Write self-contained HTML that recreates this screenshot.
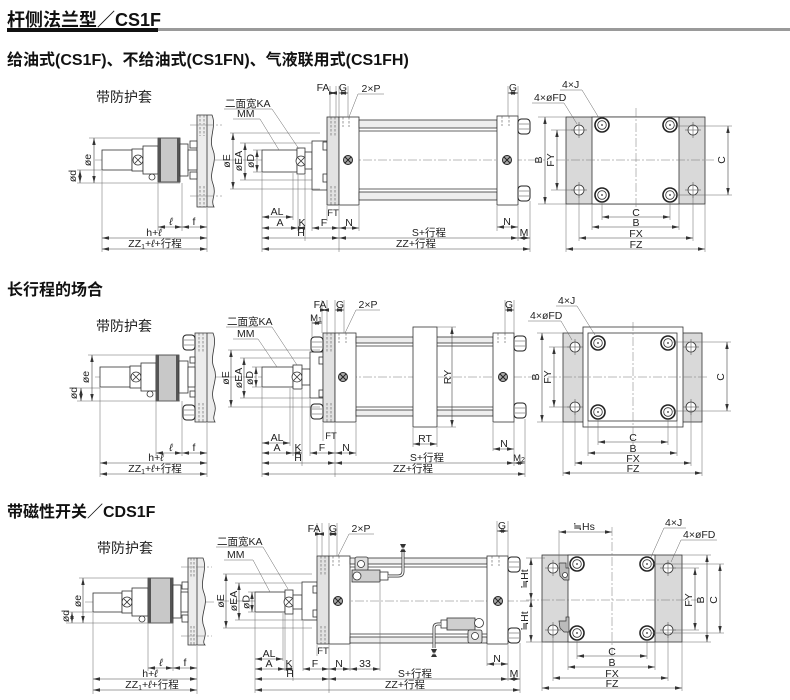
<!DOCTYPE html>
<html><head><meta charset="utf-8">
<style>
html,body{margin:0;padding:0;background:#fff}
svg{display:block}
.s{fill:#fff;stroke:#333;stroke-width:.8}
.g{fill:#d9d9d9;stroke:#333;stroke-width:.8}
.f{fill:#e2e2e2;stroke:#333;stroke-width:.8}
.l{fill:none;stroke:#333;stroke-width:.8}
.e{fill:none;stroke:#666;stroke-width:.5}
.dm{fill:none;stroke:#444;stroke-width:.6;marker-start:url(#ar);marker-end:url(#ar)}
.c{fill:none;stroke:#777;stroke-width:.5;stroke-dasharray:9 2 2 2}
.h{fill:none;stroke:#555;stroke-width:.6;stroke-dasharray:2.5 1.5}
text{font-family:"Liberation Sans","Noto Sans CJK SC",sans-serif;font-size:10.5px;fill:#222}
.m{text-anchor:middle}
.hd{font-size:16px;font-weight:bold;fill:#111}
.sb{font-size:14px;fill:#222}
.sm{font-size:9.5px}
</style></head><body>
<svg width="790" height="700" viewBox="0 0 790 700" xmlns="http://www.w3.org/2000/svg">
<defs>
<marker id="ar" viewBox="0 0 7 4" refX="7" refY="2" markerWidth="7" markerHeight="4" markerUnits="userSpaceOnUse" orient="auto-start-reverse"><path d="M0,0.3L7,2L0,3.7z" fill="#333"/></marker>
<g id="bj"><circle r="7" fill="#fff" stroke="#222" stroke-width="1.6"/><circle r="4.3" fill="none" stroke="#333" stroke-width=".8"/><circle r=".9" fill="#333"/></g>
<g id="fd"><circle r="5" fill="#fff" stroke="#333" stroke-width=".8"/><path d="M-8,0H8M0,-8V8" stroke="#444" stroke-width=".5"/></g>
<g id="pt"><circle r="4.5" fill="#aaa" stroke="#222" stroke-width="1"/><path d="M-3,-3L3,3M3,-3L-3,3" stroke="#222" stroke-width="1"/></g>
<g id="kx"><circle r="5" fill="#fff" stroke="#333" stroke-width=".8"/><path d="M-3,-3L3,3M3,-3L-3,3" stroke="#333" stroke-width=".8"/></g>
<g id="nut"><rect x="0" y="0" width="12" height="15" rx="3.5" fill="#fff" stroke="#222" stroke-width="1"/><path d="M1,5H11M1,10H11" stroke="#444" stroke-width=".5"/></g>
</defs>

<!-- HEADER -->
<text x="7" y="26" style="font-size:18px;font-weight:bold;fill:#111">杆侧法兰型／CS1F</text>
<rect x="7" y="28" width="151" height="4" fill="#111"/>
<rect x="158" y="28" width="632" height="3" fill="#9a9a9a"/>
<text x="7" y="65" class="hd">给油式(CS1F)、不给油式(CS1FN)、气液联用式(CS1FH)</text>

<!-- ================= DRAWING 1 ================= -->
<text x="96" y="102" class="sb">带防护套</text>
<!-- boot -->
<line class="c" x1="95" y1="160" x2="225" y2="160"/>
<path d="M197,115H212C217,127 208,138 213,150C218,162 208,172 213,184C217,195 210,200 214,207H197Z" fill="#ececec" stroke="#333" stroke-width=".8"/>
<line class="l" x1="207" y1="115" x2="207" y2="207"/>
<path class="h" d="M200,115V136M204,115V136M200,186V207M204,186V207"/>
<path class="c" d="M190,125H222M190,196H222"/>
<rect class="s" x="102" y="150" width="30" height="20"/>
<rect class="s" x="132" y="149" width="11" height="22"/>
<use href="#kx" x="138" y="160"/>
<rect class="s" x="143" y="146" width="15" height="28"/>
<circle class="s" cx="152" cy="177" r="3"/>
<rect x="158" y="138" width="22" height="44" fill="#c8c8c8" stroke="#333" stroke-width=".8"/>
<rect x="158" y="138" width="3" height="44" fill="#555"/>
<rect x="177" y="138" width="3" height="44" fill="#555"/>
<rect class="s" x="180" y="144" width="8" height="32"/>
<rect class="s" x="188" y="150" width="9" height="20"/>
<rect class="s" x="190" y="141" width="7" height="7"/>
<rect class="s" x="190" y="172" width="7" height="7"/>
<path class="e" d="M89,138H158M77,183H180M77,170H102M102,171V252M158,183V231M182,183V231M207,208V252"/>
<line class="dm" x1="94" y1="138" x2="94" y2="183"/>
<line class="dm" x1="80" y1="170" x2="80" y2="183"/>
<text class="m" transform="translate(91,160) rotate(-90)">øe</text>
<text class="m" transform="translate(76,176) rotate(-90)">ød</text>
<line class="dm" x1="158" y1="227" x2="182" y2="227"/>
<line class="dm" x1="182" y1="227" x2="207" y2="227"/>
<line class="dm" x1="102" y1="238" x2="207" y2="238"/>
<line class="dm" x1="102" y1="249" x2="207" y2="249"/>
<text x="171" y="225" class="m" style="font-style:italic">ℓ</text>
<text x="194" y="225" class="m">f</text>
<text x="154" y="236" class="m">h+<tspan style="font-style:italic">ℓ</tspan></text>
<text x="155" y="247" class="m">ZZ<tspan font-size="7" dy="2">1</tspan><tspan dy="-2">+</tspan><tspan style="font-style:italic">ℓ</tspan>+行程</text>

<!-- main 1 -->
<line class="c" x1="228" y1="160" x2="545" y2="160"/>
<rect class="s" x="262" y="150" width="35" height="22"/>
<rect class="s" x="297" y="148" width="8" height="26"/>
<use href="#kx" x="301" y="161"/>
<rect class="s" x="305" y="152" width="7" height="17"/>
<rect class="s" x="312" y="141" width="15" height="49"/>
<rect class="s" x="323" y="142" width="4" height="8"/>
<rect class="s" x="323" y="174" width="4" height="8"/>
<rect class="f" x="327" y="117" width="12" height="88"/>
<path class="h" d="M331,117V136M335,117V136M331,186V205M335,186V205"/>
<rect class="s" x="339" y="117" width="20" height="88"/>
<path class="h" d="M343,117V127M349,117V127"/>
<use href="#pt" x="348" y="160"/>
<rect x="359" y="120" width="138" height="8" fill="#eee" stroke="#333" stroke-width=".8"/>
<line class="l" x1="359" y1="131" x2="497" y2="131"/>
<line class="l" x1="359" y1="189" x2="497" y2="189"/>
<rect x="359" y="192" width="138" height="8" fill="#eee" stroke="#333" stroke-width=".8"/>
<rect class="s" x="497" y="116" width="21" height="89"/>
<path class="h" d="M502,116V126M509,116V126"/>
<use href="#pt" x="507" y="160"/>
<use href="#nut" x="518" y="119"/>
<use href="#nut" x="518" y="186"/>
<!-- left dims 1 -->
<path class="e" d="M230,133H320M230,189H320M240,143H312M240,180H312M253,150H262M253,172H262"/>
<line class="dm" x1="233" y1="133" x2="233" y2="189"/>
<line class="dm" x1="245" y1="143" x2="245" y2="180"/>
<line class="dm" x1="257" y1="150" x2="257" y2="172"/>
<text class="m" transform="translate(230,161) rotate(-90)">øE</text>
<text class="m" transform="translate(242,161) rotate(-90)">øEA</text>
<text class="m" transform="translate(254,161) rotate(-90)">øD</text>
<text x="225" y="107">二面宽KA</text>
<path class="e" d="M224,109H272L299,149"/>
<text x="237" y="117">MM</text>
<path class="e" d="M233,119H260L279,150"/>
<!-- top dims 1 -->
<path class="e" d="M330,86V117M336,86V117M339,86V117M348,86V117M508,86V116M518,86V116"/>
<line class="dm" x1="330" y1="93" x2="336" y2="93"/>
<line class="dm" x1="339" y1="93" x2="348" y2="93"/>
<line class="dm" x1="508" y1="93" x2="518" y2="93"/>
<text x="323" y="91" class="m">FA</text>
<text x="343" y="91" class="m">G</text>
<text x="371" y="92" class="m">2×P</text>
<path class="e" d="M384,94H358L349,117"/>
<text x="513" y="91" class="m">G</text>
<!-- bottom dims 1 -->
<path class="e" d="M262,173V252M293,173V220M298,175V231M305,175V241M312,191V231M327,206V221M339,206V252M359,206V231M497,206V231M518,206V241M530,201V252"/>
<line class="dm" x1="262" y1="217" x2="293" y2="217"/>
<line class="dm" x1="262" y1="228" x2="298" y2="228"/>
<line class="dm" x1="298" y1="228" x2="305" y2="228"/>
<line class="dm" x1="312" y1="228" x2="339" y2="228"/>
<line class="dm" x1="339" y1="228" x2="359" y2="228"/>
<line class="dm" x1="497" y1="227" x2="518" y2="227"/>
<line class="dm" x1="262" y1="238" x2="339" y2="238"/>
<line class="dm" x1="339" y1="238" x2="518" y2="238"/>
<line class="dm" x1="518" y1="238" x2="530" y2="238"/>
<line class="dm" x1="262" y1="249" x2="530" y2="249"/>
<text x="277" y="215" class="m">AL</text>
<text x="280" y="226" class="m">A</text>
<text x="302" y="226" class="m">K</text>
<text x="324" y="226" class="m">F</text>
<text x="333" y="216" class="m sm">FT</text>
<text x="349" y="226" class="m">N</text>
<text x="507" y="225" class="m">N</text>
<text x="301" y="236" class="m">H</text>
<text x="429" y="236" class="m">S+行程</text>
<text x="524" y="236" class="m">M</text>
<text x="416" y="247" class="m">ZZ+行程</text>
<!-- end view 1 -->
<rect class="g" x="566" y="117" width="139" height="87"/>
<rect class="s" x="592" y="117" width="87" height="87"/>
<path class="c" d="M636,108V212M556,160H714"/>
<use href="#fd" x="579" y="130"/><use href="#fd" x="579" y="190"/>
<use href="#fd" x="693" y="130"/><use href="#fd" x="693" y="190"/>
<use href="#bj" x="602" y="125"/><use href="#bj" x="602" y="195"/>
<use href="#bj" x="670" y="125"/><use href="#bj" x="670" y="195"/>
<path class="e" d="M538,117H566M538,204H566M551,130H574M551,190H574M675,126H732M675,195H732M602,202V220M670,202V220M592,204V230M679,204V230M579,195V241M693,195V241M566,204V252M705,204V252"/>
<line class="dm" x1="545" y1="117" x2="545" y2="204"/>
<line class="dm" x1="557" y1="130" x2="557" y2="190"/>
<line class="dm" x1="728" y1="126" x2="728" y2="195"/>
<line class="dm" x1="602" y1="217" x2="670" y2="217"/>
<line class="dm" x1="592" y1="227" x2="679" y2="227"/>
<line class="dm" x1="579" y1="238" x2="693" y2="238"/>
<line class="dm" x1="566" y1="249" x2="705" y2="249"/>
<text class="m" transform="translate(542,160) rotate(-90)">B</text>
<text class="m" transform="translate(554,160) rotate(-90)">FY</text>
<text class="m" transform="translate(725,160) rotate(-90)">C</text>
<text x="636" y="216" class="m">C</text>
<text x="636" y="226" class="m">B</text>
<text x="636" y="237" class="m">FX</text>
<text x="636" y="248" class="m">FZ</text>
<text x="562" y="88">4×J</text>
<path class="e" d="M560,90H582L599,118"/>
<text x="534" y="101">4×øFD</text>
<path class="e" d="M532,103H564L577,124"/>

<!-- ================= DRAWING 2 ================= -->
<text x="7" y="295" class="hd">长行程的场合</text>
<text x="96" y="331" class="sb">带防护套</text>
<line class="c" x1="95" y1="377" x2="225" y2="377"/>
<path d="M195,333H213C218,345 209,356 214,368C219,380 209,390 214,402C218,412 211,416 215,422H195Z" fill="#ececec" stroke="#333" stroke-width=".8"/>
<line class="l" x1="207" y1="333" x2="207" y2="422"/>
<path class="h" d="M199,333V352M203,333V352M199,403V422M203,403V422"/>
<use href="#nut" x="183" y="335"/>
<use href="#nut" x="183" y="405"/>
<rect class="s" x="100" y="367" width="30" height="20"/>
<rect class="s" x="130" y="366" width="11" height="22"/>
<use href="#kx" x="136" y="377"/>
<rect class="s" x="141" y="363" width="15" height="28"/>
<circle class="s" cx="150" cy="394" r="3"/>
<rect x="156" y="355" width="23" height="46" fill="#c8c8c8" stroke="#333" stroke-width=".8"/>
<rect x="156" y="355" width="3" height="46" fill="#555"/>
<rect x="176" y="355" width="3" height="46" fill="#555"/>
<rect class="s" x="179" y="361" width="9" height="32"/>
<rect class="s" x="188" y="367" width="7" height="20"/>
<rect class="s" x="190" y="357" width="5" height="6"/>
<rect class="s" x="190" y="391" width="5" height="6"/>
<path class="e" d="M88,355H156M77,401H180M77,388H100M100,388V477M156,401V456M182,401V456M207,423V477"/>
<line class="dm" x1="92" y1="355" x2="92" y2="401"/>
<line class="dm" x1="81" y1="388" x2="81" y2="401"/>
<text class="m" transform="translate(89,377) rotate(-90)">øe</text>
<text class="m" transform="translate(77,393) rotate(-90)">ød</text>
<line class="dm" x1="156" y1="453" x2="182" y2="453"/>
<line class="dm" x1="182" y1="453" x2="207" y2="453"/>
<line class="dm" x1="100" y1="463" x2="207" y2="463"/>
<line class="dm" x1="100" y1="474" x2="207" y2="474"/>
<text x="171" y="451" class="m" style="font-style:italic">ℓ</text>
<text x="194" y="451" class="m">f</text>
<text x="156" y="461" class="m">h+<tspan style="font-style:italic">ℓ</tspan></text>
<text x="155" y="472" class="m">ZZ<tspan font-size="7" dy="2">1</tspan><tspan dy="-2">+</tspan><tspan style="font-style:italic">ℓ</tspan>+行程</text>

<!-- main 2 -->
<line class="c" x1="228" y1="377" x2="540" y2="377"/>
<rect class="s" x="262" y="367" width="31" height="20"/>
<rect class="s" x="293" y="365" width="9" height="24"/>
<use href="#kx" x="297" y="377"/>
<rect class="s" x="302" y="369" width="8" height="16"/>
<rect class="s" x="310" y="352" width="13" height="46"/>
<rect class="s" x="319" y="357" width="4" height="7"/>
<rect class="s" x="319" y="390" width="4" height="7"/>
<rect class="f" x="323" y="333" width="12" height="89"/>
<path class="h" d="M327,333V352M331,333V352M327,403V422M331,403V422"/>
<use href="#nut" x="311" y="337"/>
<use href="#nut" x="311" y="404"/>
<rect class="s" x="335" y="333" width="21" height="89"/>
<path class="h" d="M339,333V343M346,333V343"/>
<use href="#pt" x="343" y="377"/>
<rect x="356" y="337" width="137" height="6" fill="#eee" stroke="#333" stroke-width=".8"/>
<line class="l" x1="356" y1="346" x2="493" y2="346"/>
<line class="l" x1="356" y1="407" x2="493" y2="407"/>
<rect x="356" y="410" width="137" height="6" fill="#eee" stroke="#333" stroke-width=".8"/>
<rect class="s" x="413" y="327" width="24" height="100"/>
<rect class="s" x="493" y="333" width="21" height="89"/>
<path class="h" d="M498,333V343M505,333V343"/>
<use href="#pt" x="503" y="377"/>
<use href="#nut" x="514" y="336"/>
<use href="#nut" x="514" y="403"/>
<!-- left dims 2 -->
<path class="e" d="M228,350H320M228,407H320M240,358H310M240,398H310M252,367H262M252,387H262"/>
<line class="dm" x1="231" y1="350" x2="231" y2="407"/>
<line class="dm" x1="244" y1="358" x2="244" y2="398"/>
<line class="dm" x1="256" y1="367" x2="256" y2="387"/>
<text class="m" transform="translate(229,378) rotate(-90)">øE</text>
<text class="m" transform="translate(242,378) rotate(-90)">øEA</text>
<text class="m" transform="translate(253,378) rotate(-90)">øD</text>
<text x="227" y="325">二面宽KA</text>
<path class="e" d="M226,327H272L297,365"/>
<text x="237" y="337">MM</text>
<path class="e" d="M233,339H258L277,367"/>
<!-- top dims 2 -->
<path class="e" d="M312,315V337M322,300V333M327,300V333M335,300V333M344,300V333M505,300V333M514,300V333"/>
<line class="dm" x1="322" y1="310" x2="327" y2="310"/>
<line class="dm" x1="335" y1="310" x2="344" y2="310"/>
<line class="dm" x1="312" y1="323" x2="322" y2="323"/>
<line class="dm" x1="505" y1="310" x2="514" y2="310"/>
<text x="320" y="308" class="m">FA</text>
<text x="340" y="308" class="m">G</text>
<text x="368" y="308" class="m">2×P</text>
<path class="e" d="M380,310H356L345,333"/>
<text x="316" y="321" class="m sm">M<tspan font-size="7" dy="1">1</tspan></text>
<text x="509" y="308" class="m">G</text>
<!-- RY / RT -->
<path class="e" d="M437,327H456M437,427H456M413,428V447M437,428V447"/>
<line class="dm" x1="452" y1="327" x2="452" y2="427"/>
<text class="m" transform="translate(451,377) rotate(-90)">RY</text>
<line class="dm" x1="413" y1="444" x2="437" y2="444"/>
<text x="425" y="442" class="m">RT</text>
<!-- bottom dims 2 -->
<path class="e" d="M262,388V477M290,388V446M293,390V456M302,390V466M310,399V456M323,423V441M335,423V477M356,423V456M493,423V451M514,419V466M525,419V477"/>
<line class="dm" x1="262" y1="443" x2="290" y2="443"/>
<line class="dm" x1="262" y1="453" x2="293" y2="453"/>
<line class="dm" x1="293" y1="453" x2="302" y2="453"/>
<line class="dm" x1="310" y1="453" x2="335" y2="453"/>
<line class="dm" x1="335" y1="453" x2="356" y2="453"/>
<line class="dm" x1="493" y1="449" x2="514" y2="449"/>
<line class="dm" x1="262" y1="463" x2="335" y2="463"/>
<line class="dm" x1="335" y1="463" x2="514" y2="463"/>
<line class="dm" x1="514" y1="463" x2="525" y2="463"/>
<line class="dm" x1="262" y1="474" x2="525" y2="474"/>
<text x="277" y="441" class="m">AL</text>
<text x="277" y="451" class="m">A</text>
<text x="298" y="451" class="m">K</text>
<text x="322" y="451" class="m">F</text>
<text x="331" y="439" class="m sm">FT</text>
<text x="346" y="451" class="m">N</text>
<text x="504" y="447" class="m">N</text>
<text x="298" y="461" class="m">H</text>
<text x="427" y="461" class="m">S+行程</text>
<text x="519" y="461" class="m sm">M<tspan font-size="7" dy="1">2</tspan></text>
<text x="413" y="472" class="m">ZZ+行程</text>
<!-- end view 2 -->
<rect class="g" x="563" y="333" width="139" height="89"/>
<rect class="s" x="583" y="327" width="100" height="100"/>
<rect class="s" x="588" y="333" width="89" height="88"/>
<path class="c" d="M633,322V445M548,377H708"/>
<use href="#fd" x="575" y="347"/><use href="#fd" x="575" y="407"/>
<use href="#fd" x="691" y="347"/><use href="#fd" x="691" y="407"/>
<use href="#bj" x="598" y="343"/><use href="#bj" x="598" y="412"/>
<use href="#bj" x="668" y="343"/><use href="#bj" x="668" y="412"/>
<path class="e" d="M537,333H563M537,422H563M549,347H570M549,407H570M673,342H731M673,411H731M598,420V445M668,420V445M588,421V456M677,421V456M575,412V466M691,412V466M563,422V476M702,422V476"/>
<line class="dm" x1="542" y1="333" x2="542" y2="422"/>
<line class="dm" x1="554" y1="347" x2="554" y2="407"/>
<line class="dm" x1="727" y1="342" x2="727" y2="411"/>
<line class="dm" x1="598" y1="442" x2="668" y2="442"/>
<line class="dm" x1="588" y1="453" x2="677" y2="453"/>
<line class="dm" x1="575" y1="463" x2="691" y2="463"/>
<line class="dm" x1="563" y1="473" x2="702" y2="473"/>
<text class="m" transform="translate(539,377) rotate(-90)">B</text>
<text class="m" transform="translate(551,377) rotate(-90)">FY</text>
<text class="m" transform="translate(724,377) rotate(-90)">C</text>
<text x="633" y="441" class="m">C</text>
<text x="633" y="452" class="m">B</text>
<text x="633" y="462" class="m">FX</text>
<text x="633" y="472" class="m">FZ</text>
<text x="558" y="304">4×J</text>
<path class="e" d="M556,306H577L595,335"/>
<text x="530" y="319">4×øFD</text>
<path class="e" d="M528,321H561L572,340"/>

<!-- ================= DRAWING 3 ================= -->
<text x="7" y="517" class="hd">带磁性开关／CDS1F</text>
<text x="97" y="553" class="sb">带防护套</text>
<line class="c" x1="85" y1="602" x2="215" y2="602"/>
<path d="M188,558H203C208,570 199,581 204,593C209,605 199,615 204,627C208,637 201,641 205,645H188Z" fill="#ececec" stroke="#333" stroke-width=".8"/>
<line class="l" x1="197" y1="558" x2="197" y2="645"/>
<path class="h" d="M191,558V577M194,558V577M191,626V645M194,626V645"/>
<path class="c" d="M181,567H212M181,636H212"/>
<rect class="s" x="93" y="593" width="29" height="19"/>
<rect class="s" x="122" y="591" width="10" height="22"/>
<use href="#kx" x="127" y="602"/>
<rect class="s" x="132" y="588" width="16" height="28"/>
<circle class="s" cx="142" cy="619" r="3"/>
<rect x="148" y="578" width="25" height="45" fill="#c8c8c8" stroke="#333" stroke-width=".8"/>
<rect x="148" y="578" width="3" height="45" fill="#555"/>
<rect x="170" y="578" width="3" height="45" fill="#555"/>
<rect class="s" x="173" y="585" width="8" height="33"/>
<rect class="s" x="181" y="592" width="7" height="20"/>
<rect class="s" x="182" y="582" width="6" height="7"/>
<rect class="s" x="182" y="615" width="6" height="7"/>
<path class="e" d="M79,578H148M66,623H173M66,612H93M93,613V694M148,623V671M173,623V671M197,646V694"/>
<line class="dm" x1="83" y1="578" x2="83" y2="623"/>
<line class="dm" x1="72" y1="612" x2="72" y2="623"/>
<text class="m" transform="translate(81,601) rotate(-90)">øe</text>
<text class="m" transform="translate(69,616) rotate(-90)">ød</text>
<line class="dm" x1="148" y1="668" x2="173" y2="668"/>
<line class="dm" x1="173" y1="668" x2="197" y2="668"/>
<line class="dm" x1="93" y1="679" x2="197" y2="679"/>
<line class="dm" x1="93" y1="690" x2="197" y2="690"/>
<text x="161" y="666" class="m" style="font-style:italic">ℓ</text>
<text x="185" y="666" class="m">f</text>
<text x="150" y="677" class="m">h+<tspan style="font-style:italic">ℓ</tspan></text>
<text x="152" y="688" class="m">ZZ<tspan font-size="7" dy="2">1</tspan><tspan dy="-2">+</tspan><tspan style="font-style:italic">ℓ</tspan>+行程</text>

<!-- main 3 -->
<line class="c" x1="220" y1="601" x2="532" y2="601"/>
<rect class="s" x="255" y="592" width="30" height="20"/>
<rect class="s" x="285" y="590" width="8" height="24"/>
<use href="#kx" x="289" y="602"/>
<rect class="s" x="293" y="595" width="9" height="14"/>
<rect class="s" x="302" y="582" width="15" height="38"/>
<rect class="s" x="313" y="586" width="4" height="7"/>
<rect class="s" x="313" y="610" width="4" height="7"/>
<rect class="f" x="317" y="556" width="12" height="88"/>
<path class="h" d="M321,556V575M325,556V575M321,626V644M325,626V644"/>
<rect class="s" x="329" y="556" width="21" height="88"/>
<path class="h" d="M333,556V566M339,556V566"/>
<use href="#pt" x="338" y="601"/>
<rect x="350" y="558" width="137" height="6" fill="#eee" stroke="#333" stroke-width=".8"/>
<line class="l" x1="350" y1="567" x2="487" y2="567"/>
<line class="l" x1="350" y1="634" x2="487" y2="634"/>
<rect x="350" y="637" width="137" height="6" fill="#eee" stroke="#333" stroke-width=".8"/>
<rect class="s" x="487" y="556" width="21" height="88"/>
<path class="h" d="M492,556V566M499,556V566"/>
<use href="#pt" x="498" y="601"/>
<use href="#nut" x="508" y="557"/>
<use href="#nut" x="508" y="628"/>
<!-- switches -->
<rect x="355" y="557" width="13" height="14" rx="2" fill="#ddd" stroke="#333" stroke-width=".8"/>
<circle class="s" cx="361" cy="564" r="3.5"/>
<rect x="352" y="570" width="28" height="12" fill="#cfcfcf" stroke="#333" stroke-width=".8"/>
<circle class="s" cx="357" cy="576" r="4"/>
<rect class="s" x="380" y="572" width="8" height="8"/>
<path d="M388,576H398Q403,576 403,571V552" fill="none" stroke="#444" stroke-width="3"/>
<path d="M388,576H398Q403,576 403,571V552" fill="none" stroke="#fff" stroke-width="1.3"/>
<path d="M400,544L406,544L403,550Z M400,552L406,552L403,547Z" fill="#333"/>
<rect x="447" y="618" width="28" height="12" fill="#cfcfcf" stroke="#333" stroke-width=".8"/>
<circle class="s" cx="479" cy="623" r="4.5"/>
<rect class="s" x="441" y="620" width="6" height="8"/>
<rect x="468" y="630" width="14" height="13" rx="2" fill="#ddd" stroke="#333" stroke-width=".8"/>
<circle class="s" cx="475" cy="636" r="3.5"/>
<path d="M441,624H438Q434,624 434,628V648" fill="none" stroke="#444" stroke-width="3"/>
<path d="M441,624H438Q434,624 434,628V648" fill="none" stroke="#fff" stroke-width="1.3"/>
<path d="M431,649L437,649L434,655Z M431,657L437,657L434,652Z" fill="#333"/>
<!-- left dims 3 -->
<path class="e" d="M223,574H312M223,628H312M235,583H302M235,620H302M248,592H255M248,612H255"/>
<line class="dm" x1="226" y1="574" x2="226" y2="628"/>
<line class="dm" x1="239" y1="583" x2="239" y2="620"/>
<line class="dm" x1="252" y1="592" x2="252" y2="612"/>
<text class="m" transform="translate(224,601) rotate(-90)">øE</text>
<text class="m" transform="translate(237,601) rotate(-90)">øEA</text>
<text class="m" transform="translate(249.5,602) rotate(-90)">øD</text>
<text x="217" y="545">二面宽KA</text>
<path class="e" d="M216,547H263L288,589"/>
<text x="227" y="558">MM</text>
<path class="e" d="M224,560H253L270,592"/>
<!-- top dims 3 -->
<path class="e" d="M317,523V556M322,523V556M329,523V556M337,523V556M497,521V556M508,521V556"/>
<line class="dm" x1="317" y1="534" x2="322" y2="534"/>
<line class="dm" x1="329" y1="534" x2="337" y2="534"/>
<line class="dm" x1="497" y1="531" x2="508" y2="531"/>
<text x="314" y="532" class="m">FA</text>
<text x="333" y="532" class="m">G</text>
<text x="361" y="532" class="m">2×P</text>
<path class="e" d="M374,534H349L338,556"/>
<text x="502" y="529" class="m">G</text>
<!-- bottom dims 3 -->
<path class="e" d="M255,613V693M283,613V661M285,614V671M293,614V681M303,621V671M317,645V656M329,645V693M350,645V671M380,583V671M487,645V666M508,645V681M520,643V693"/>
<line class="dm" x1="255" y1="659" x2="283" y2="659"/>
<line class="dm" x1="255" y1="669" x2="285" y2="669"/>
<line class="dm" x1="285" y1="669" x2="293" y2="669"/>
<line class="dm" x1="303" y1="669" x2="329" y2="669"/>
<line class="dm" x1="329" y1="669" x2="350" y2="669"/>
<line class="dm" x1="350" y1="669" x2="380" y2="669"/>
<line class="dm" x1="487" y1="664" x2="508" y2="664"/>
<line class="dm" x1="255" y1="679" x2="329" y2="679"/>
<line class="dm" x1="329" y1="679" x2="508" y2="679"/>
<line class="dm" x1="508" y1="679" x2="520" y2="679"/>
<line class="dm" x1="255" y1="690" x2="520" y2="690"/>
<text x="269" y="657" class="m">AL</text>
<text x="269" y="667" class="m">A</text>
<text x="289" y="667" class="m">K</text>
<text x="315" y="667" class="m">F</text>
<text x="323" y="654" class="m sm">FT</text>
<text x="339" y="667" class="m">N</text>
<text x="365" y="667" class="m">33</text>
<text x="497" y="662" class="m">N</text>
<text x="290" y="677" class="m">H</text>
<text x="415" y="677" class="m">S+行程</text>
<text x="514" y="677" class="m">M</text>
<text x="405" y="688" class="m">ZZ+行程</text>
<!-- end view 3 -->
<rect class="g" x="542" y="555" width="140" height="87"/>
<rect class="s" x="568" y="555" width="87" height="87"/>
<path class="c" d="M612,527V662M526,600H700"/>
<use href="#fd" x="553" y="568"/><use href="#fd" x="553" y="630"/>
<use href="#fd" x="668" y="568"/><use href="#fd" x="668" y="630"/>
<use href="#bj" x="577" y="564"/><use href="#bj" x="577" y="633"/>
<use href="#bj" x="647" y="564"/><use href="#bj" x="647" y="633"/>
<path d="M559,563H566V568H569V580H564L560,576Z" fill="#bbb" stroke="#333" stroke-width=".7"/>
<circle class="s" cx="565" cy="575" r="2.5"/>
<path d="M559,621H566V617H569V632H564L560,628Z" fill="#bbb" stroke="#333" stroke-width=".7"/>
<path class="e" d="M559,530V562M526,558H545M526,642H545M673,568H699M673,630H699M682,555H711M682,642H711M652,564H724M652,633H724M577,640V659M647,640V659M568,642V670M655,642V670M553,635V681M668,635V681M542,642V691M682,642V691"/>
<line class="dm" x1="559" y1="532" x2="612" y2="532"/>
<line class="dm" x1="531" y1="558" x2="531" y2="600"/>
<line class="dm" x1="531" y1="600" x2="531" y2="642"/>
<line class="dm" x1="695" y1="568" x2="695" y2="630"/>
<line class="dm" x1="707" y1="555" x2="707" y2="642"/>
<line class="dm" x1="720" y1="564" x2="720" y2="633"/>
<line class="dm" x1="577" y1="656" x2="647" y2="656"/>
<line class="dm" x1="568" y1="667" x2="655" y2="667"/>
<line class="dm" x1="553" y1="678" x2="668" y2="678"/>
<line class="dm" x1="542" y1="688" x2="682" y2="688"/>
<text x="584" y="530" class="m">≒Hs</text>
<text class="m" transform="translate(528,579) rotate(-90)">≒Ht</text>
<text class="m" transform="translate(528,621) rotate(-90)">≒Ht</text>
<text class="m" transform="translate(692,600) rotate(-90)">FY</text>
<text class="m" transform="translate(704,600) rotate(-90)">B</text>
<text class="m" transform="translate(717,600) rotate(-90)">C</text>
<text x="612" y="655" class="m">C</text>
<text x="612" y="666" class="m">B</text>
<text x="612" y="677" class="m">FX</text>
<text x="612" y="687" class="m">FZ</text>
<text x="665" y="526">4×J</text>
<path class="e" d="M686,528H664L651,557"/>
<text x="683" y="538">4×øFD</text>
<path class="e" d="M717,540H681L671,562"/>
</svg>
</body></html>
